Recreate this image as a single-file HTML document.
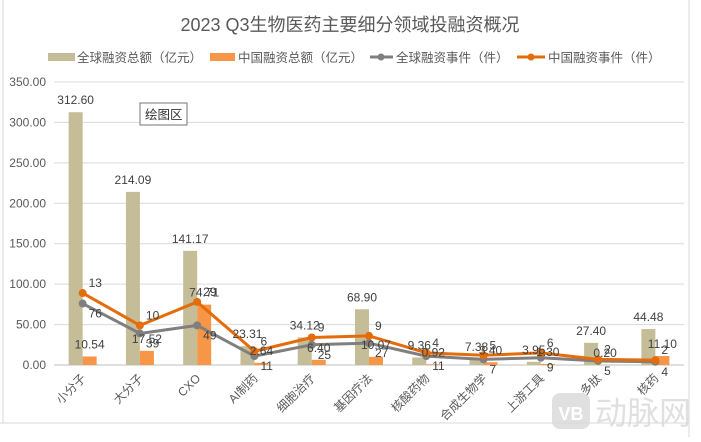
<!DOCTYPE html>
<html><head><meta charset="utf-8"><style>
body{margin:0;background:#fff;}
svg text{font-family:"Liberation Sans","Noto Sans CJK SC",sans-serif;}
</style></head><body>
<svg width="701" height="437" viewBox="0 0 701 437">
<rect x="0" y="0" width="701" height="437" fill="#fff"/>
<line x1="689" y1="0" x2="689" y2="437" stroke="#d9d9d9"/>
<line x1="0" y1="423" x2="689" y2="423" stroke="#d9d9d9"/>
<line x1="3" y1="0" x2="3" y2="423" stroke="#d9d9d9"/>
<text x="350" y="31" text-anchor="middle" font-size="18" fill="#595959">2023 Q3生物医药主要细分领域投融资概况</text>
<g id="legend" font-size="12.5" fill="#595959">
<rect x="48" y="53" width="27" height="8" fill="#c4bd97"/>
<text x="77" y="62">全球融资总额（亿元）</text>
<rect x="210" y="53" width="25" height="8" fill="#f79646"/>
<text x="238" y="62">中国融资总额（亿元）</text>
<line x1="370" y1="57" x2="393" y2="57" stroke="#7f7f7f" stroke-width="3"/><circle cx="381" cy="57" r="3.5" fill="#7f7f7f"/>
<text x="396" y="62">全球融资事件（件）</text>
<line x1="517" y1="57" x2="545" y2="57" stroke="#e46c0a" stroke-width="3"/><circle cx="531" cy="57" r="3.5" fill="#e46c0a"/>
<text x="548" y="62">中国融资事件（件）</text>
</g>
<g id="grid"></g><g id="bars"></g><g id="lines"></g><g id="labels"></g><g id="xlabels"></g>
<g>
<rect x="140" y="103" width="47" height="22" fill="#fff" stroke="#767676"/>
<text x="145" y="119" font-size="12.5" fill="#333">绘图区</text>
</g>
<g opacity="0.8">
<rect x="552" y="393" width="38" height="36" rx="8" fill="#d9d9d9"/>
<text x="571" y="420" text-anchor="middle" font-size="18" font-weight="bold" fill="#fff">VB</text>
<text x="595" y="424" font-size="32" fill="#d9d9d9">动脉网</text>
</g>
</svg>
<script>
const categories=["小分子","大分子","CXO","AI制药","细胞治疗","基因疗法","核酸药物","合成生物学","上游工具","多肽","核药"];
const globalAmount=[312.60,214.09,141.17,23.31,34.12,68.90,9.36,7.38,3.95,27.40,44.48];
const chinaAmount=[10.54,17.52,74.71,2.64,6.40,10.07,0.92,3.40,1.30,0.20,11.10];
const globalEvents=[76,39,49,11,25,27,11,7,9,5,4];
const chinaEvents=[13,10,29,6,9,9,4,5,6,2,2];
const yTicks=[0,50,100,150,200,250,300,350];
const NS="http://www.w3.org/2000/svg";
const x0=54,x1=684,yBase=365,yTop=82,yMax=350;
const step=(x1-x0)/categories.length;
function xC(i){return x0+step*(i+0.5);}
function yS(v){return yBase-(v/yMax)*(yBase-yTop);}
function mk(tag,attrs,parent,txt){const e=document.createElementNS(NS,tag);for(const k in attrs)e.setAttribute(k,attrs[k]);if(txt!==undefined)e.textContent=txt;document.getElementById(parent).appendChild(e);return e;}
yTicks.forEach(t=>{
 const l=mk('line',{x1:x0,x2:x1,y1:yS(t),y2:yS(t),stroke:t===0?'#bfbfbf':'#d9d9d9'},'grid');
 
 
 const tx=mk('text',{x:x0-8,y:yS(t)+4,'text-anchor':'end','font-size':12,fill:'#595959'},'grid',t.toFixed(2));
 
 
});
const bw=14;
categories.forEach((c,i)=>{
 const cx=xC(i);
 const g=mk('rect',{x:cx-bw,y:yS(globalAmount[i]),width:bw,height:yBase-yS(globalAmount[i]),fill:'#c4bd97'},'bars');
 
 
 const o=mk('rect',{x:cx,y:yS(chinaAmount[i]),width:bw,height:yBase-yS(chinaAmount[i]),fill:'#f79646'},'bars');
 
 
 const a=mk('text',{x:cx-bw/2,y:yS(globalAmount[i])-8,'text-anchor':'middle','font-size':12,fill:'#404040'},'labels',globalAmount[i].toFixed(2));
 
 
 const b=mk('text',{x:cx+bw/2,y:yS(chinaAmount[i])-8,'text-anchor':'middle','font-size':12,fill:'#404040'},'labels',chinaAmount[i].toFixed(2));
 
 
 const xl=mk('text',{x:0,y:0,'text-anchor':'end','font-size':12,fill:'#595959',transform:`translate(${cx+4},${yBase+14}) rotate(-45)`},'xlabels',c);
 
 
});
function line(vals,color,name){
 const pts=vals.map((v,i)=>xC(i)+','+yS(v)).join(' ');
 const p=mk('polyline',{points:pts,fill:'none',stroke:color,'stroke-width':3,'stroke-linejoin':'round'},'lines');
 
 
 vals.forEach((v,i)=>{const d=mk('circle',{cx:xC(i),cy:yS(v),r:4,fill:color},'lines');
 
 });
}
const stacked=chinaEvents.map((v,i)=>v+globalEvents[i]);
line(globalEvents,'#7f7f7f','line-global-events');
line(stacked,'#e46c0a','line-china-events');
categories.forEach((c,i)=>{
 const t1=mk('text',{x:xC(i)+6,y:yS(globalEvents[i])+14,'font-size':12,fill:'#404040'},'labels',String(globalEvents[i]));
 
 
 const t2=mk('text',{x:xC(i)+6,y:yS(stacked[i])-6,'font-size':12,fill:'#404040'},'labels',String(chinaEvents[i]));
 
 
});
</script>
</body></html>
